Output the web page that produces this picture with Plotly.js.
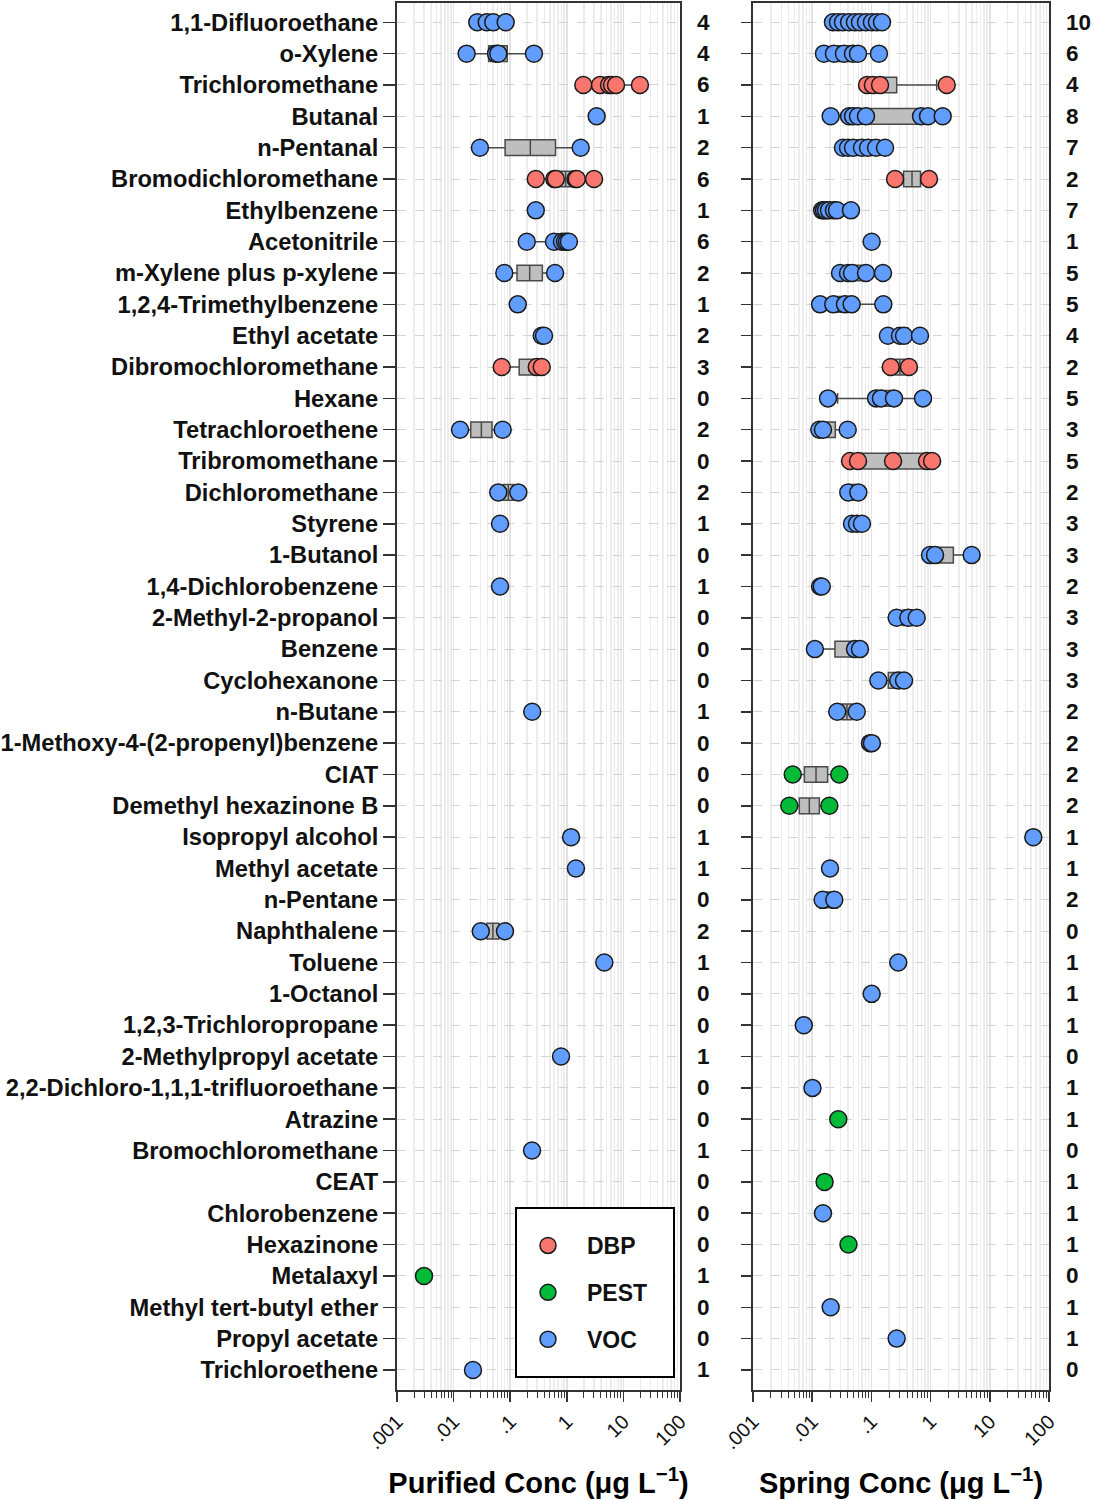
<!DOCTYPE html>
<html><head><meta charset="utf-8">
<script src="https://cdn.plot.ly/plotly-3.0.1.min.js"></script>
<style>html,body{margin:0;padding:0;background:#fff}</style>
</head><body><div id="chart" style="width:1093px;height:1500px"></div>
<script>
// ---------------- DATA ----------------
const categories = [
  "1,1-Difluoroethane","o-Xylene","Trichloromethane","Butanal","n-Pentanal",
  "Bromodichloromethane","Ethylbenzene","Acetonitrile","m-Xylene plus p-xylene",
  "1,2,4-Trimethylbenzene","Ethyl acetate","Dibromochloromethane","Hexane",
  "Tetrachloroethene","Tribromomethane","Dichloromethane","Styrene","1-Butanol",
  "1,4-Dichlorobenzene","2-Methyl-2-propanol","Benzene","Cyclohexanone","n-Butane",
  "1-Methoxy-4-(2-propenyl)benzene","CIAT","Demethyl hexazinone B","Isopropyl alcohol",
  "Methyl acetate","n-Pentane","Naphthalene","Toluene","1-Octanol",
  "1,2,3-Trichloropropane","2-Methylpropyl acetate","2,2-Dichloro-1,1,1-trifluoroethane",
  "Atrazine","Bromochloromethane","CEAT","Chlorobenzene","Hexazinone","Metalaxyl",
  "Methyl tert-butyl ether","Propyl acetate","Trichloroethene"
];
const classOf = [
  "VOC","VOC","DBP","VOC","VOC",
  "DBP","VOC","VOC","VOC",
  "VOC","VOC","DBP","VOC",
  "VOC","DBP","VOC","VOC","VOC",
  "VOC","VOC","VOC","VOC","VOC",
  "VOC","PEST","PEST","VOC",
  "VOC","VOC","VOC","VOC","VOC",
  "VOC","VOC","VOC",
  "PEST","VOC","PEST","VOC","PEST","PEST",
  "VOC","VOC","VOC"
];
// Purified water concentrations (ug/L), one list per category
const purified = [
  [0.0262,0.0385,0.0502,0.0832],
  [0.0170,0.0561,0.0616,0.263],
  [1.96,3.86,5.57,6.29,7.40,19.6],
  [3.37],
  [0.0292,1.76],
  [0.283,0.601,0.64,1.42,1.50,3.03],
  [0.283],
  [0.196,0.594,0.822,0.929,1.01,1.09],
  [0.0787,0.620],
  [0.136],
  [0.361,0.396],
  [0.0708,0.294,0.361],
  [],
  [0.0130,0.0736],
  [],
  [0.0616,0.139],
  [0.0661],
  [],
  [0.0661],
  [],[],[],
  [0.245],
  [],[],[],
  [1.19],
  [1.45],
  [],
  [0.0302,0.0809],
  [4.60],
  [],[],
  [0.791],
  [],[],
  [0.243],
  [],[],[],
  [0.0030],
  [],[],
  [0.0220]
];
// Spring water concentrations (ug/L)
const spring = [
  [0.0224,0.0273,0.0331,0.0419,0.0528,0.0641,0.0811,0.102,0.124,0.151],
  [0.0158,0.0233,0.0344,0.0489,0.0594,0.134],
  [0.0843,0.106,0.140,1.87],
  [0.0205,0.0419,0.0489,0.0594,0.0811,0.689,0.904,1.60],
  [0.0331,0.0403,0.0489,0.0693,0.0877,0.120,0.170],
  [0.251,0.940],
  [0.0147,0.0158,0.0171,0.0192,0.0233,0.0262,0.0452],
  [0.101],
  [0.0295,0.0403,0.0470,0.0811,0.157],
  [0.0136,0.0227,0.0358,0.0464,0.159],
  [0.190,0.304,0.356,0.662],
  [0.212,0.431],
  [0.0185,0.120,0.145,0.241,0.745],
  [0.0132,0.0152,0.0398],
  [0.0436,0.0594,0.232,0.869,1.06],
  [0.0407,0.0601],
  [0.0470,0.0571,0.0693],
  [0.977,1.19,4.94],
  [0.0136,0.0145],
  [0.267,0.420,0.582],
  [0.0111,0.0528,0.0641],
  [0.131,0.284,0.356],
  [0.0265,0.0565],
  [0.0946,0.102],
  [0.00469,0.0287],
  [0.00410,0.0195],
  [54.3],
  [0.0200],
  [0.0150,0.0236],
  [],
  [0.284],
  [0.101],
  [0.00721],
  [],
  [0.0101],
  [0.0276],
  [],
  [0.0162],
  [0.0152],
  [0.0410],
  [],
  [0.0205],
  [0.267],
  []
];
const classes = ["DBP","PEST","VOC"];
const classColors = {DBP:"#F8766D", PEST:"#00BA38", VOC:"#619CFF"};
const tickVals = [0.001,0.01,0.1,1,10,100];
const tickText = [".001",".01",".1","1","10","100"];
const titles = ["Purified Conc (μg L<sup>−1</sup>)","Spring Conc (μg L<sup>−1</sup>)"];

// ---------------- HELPERS ----------------
const FONT = "Liberation Sans, Arial, Helvetica, sans-serif";
function qLog(sorted, p) { // type-7 quantile on log10 values
  const L = sorted.map(v => Math.log10(v));
  const h = (L.length - 1) * p, lo = Math.floor(h), hi = Math.min(lo + 1, L.length - 1);
  return Math.pow(10, L[lo] + (h - lo) * (L[hi] - L[lo]));
}
const minorVals = [];
for (let e = -3; e < 2; e++) for (let m = 2; m <= 9; m++) minorVals.push(m * Math.pow(10, e));

const panels = [
  {data: purified, xa: "x", ya: "y"},
  {data: spring, xa: "x2", ya: "y2"}
];
const traces = [];
panels.forEach((pn, pi) => {
  const b = {y: [], q1: [], median: [], q3: [], lowerfence: [], upperfence: []};
  pn.data.forEach((vals, i) => {
    if (vals.length < 2) return;
    const s = vals.slice().sort((a, c) => a - c);
    b.y.push(categories[i]);
    b.q1.push(qLog(s, 0.25)); b.median.push(qLog(s, 0.5)); b.q3.push(qLog(s, 0.75));
    b.lowerfence.push(qLog(s, 0.05)); b.upperfence.push(qLog(s, 0.95));
  });
  traces.push(Object.assign({
    type: "box", orientation: "h", xaxis: pn.xa, yaxis: pn.ya,
    boxpoints: false, width: 0.5, whiskerwidth: 0.7,
    fillcolor: "#BEBEBE", line: {color: "#4a4a4a", width: 1.5},
    showlegend: false, hoverinfo: "skip"
  }, b));
});
panels.forEach((pn, pi) => {
  classes.forEach(c => {
    const xs = [], ys = [];
    pn.data.forEach((vals, i) => {
      if (classOf[i] !== c) return;
      vals.forEach(v => { xs.push(v); ys.push(categories[i]); });
    });
    traces.push({
      type: "scatter", mode: "markers", x: xs, y: ys, name: c,
      xaxis: pn.xa, yaxis: pn.ya, legendgroup: c, showlegend: pi === 0,
      marker: {size: 17, color: classColors[c], line: {color: "#1a1a1a", width: 1.5}}
    });
  });
});

// ---------------- LAYOUT ----------------
const W = 1093, H = 1500;
const xDom = [[397 / W, 680 / W], [753 / W, 1049 / W]];
const yDom = [110 / H, 1497 / H];
const yRange = [43.64, -0.616];
function xAxis(i) {
  return {
    type: "log", domain: xDom[i], range: [-3, 2], anchor: i ? "y2" : "y",
    tickmode: "array", tickvals: tickVals, ticktext: tickText, tickangle: -45,
    ticks: "outside", ticklen: 10, tickwidth: 1.5, tickcolor: "#333",
    tickfont: {family: FONT, size: 20, color: "#111"},
    showline: true, linecolor: "#333", linewidth: 2, mirror: true,
    showgrid: true, gridcolor: "#e2e2e2", gridwidth: 1.5, zeroline: false,
    minor: {tickmode: "array", tickvals: minorVals, ticks: "outside", ticklen: 6,
            tickwidth: 1, tickcolor: "#333", showgrid: true, gridcolor: "#ececec", gridwidth: 1.5},
    title: {text: titles[i], font: {family: FONT, size: 29, weight: "bold", color: "#000"}, standoff: 20},
    fixedrange: true
  };
}
function yAxis(i) {
  return {
    type: "category", categoryorder: "array", categoryarray: categories,
    domain: yDom, range: yRange, anchor: i ? "x2" : "x",
    ticks: "outside", ticklen: i ? 10 : 12, tickwidth: 1.5, tickcolor: "#333",
    showticklabels: i === 0,
    tickfont: {family: FONT, size: 23.7, weight: "bold", color: "#111"},
    showline: true, linecolor: "#333", linewidth: 2, mirror: true,
    showgrid: true, gridcolor: "#d4d4d4", gridwidth: 1, griddash: "dash",
    zeroline: false, fixedrange: true
  };
}
const annotations = [];
[purified, spring].forEach((d, pi) => {
  const xp = pi === 0 ? 695 / W : 1064 / W;
  d.forEach((vals, i) => annotations.push({
    xref: "paper", yref: pi ? "y2" : "y", x: xp, y: i, xanchor: "left", yanchor: "middle",
    text: String(vals.length), showarrow: false,
    font: {family: FONT, size: 22.5, weight: "bold", color: "#111"}
  }));
});
const layout = {
  width: W, height: H, margin: {l: 0, r: 0, t: 0, b: 0},
  paper_bgcolor: "#fff", plot_bgcolor: "#fff",
  font: {family: FONT, color: "#111"},
  xaxis: xAxis(0), xaxis2: xAxis(1), yaxis: yAxis(0), yaxis2: yAxis(1),
  annotations: annotations,
  shapes: [{type: "rect", xref: "paper", yref: "paper", layer: "above",
            x0: 516 / W, x1: 674 / W, y0: 123 / H, y1: 292 / H,
            line: {color: "#000", width: 2}, fillcolor: "#fff"}],
  showlegend: true,
  legend: {x: 509 / W, y: 276 / H, xanchor: "left", yanchor: "top",
           bgcolor: "rgba(0,0,0,0)", borderwidth: 0, traceorder: "grouped",
           tracegroupgap: 14, itemwidth: 68,
           font: {family: FONT, size: 23, weight: "bold", color: "#111"}},
  hovermode: false
};
Plotly.newPlot("chart", traces, layout, {staticPlot: true, displayModeBar: false});
</script></body></html>
